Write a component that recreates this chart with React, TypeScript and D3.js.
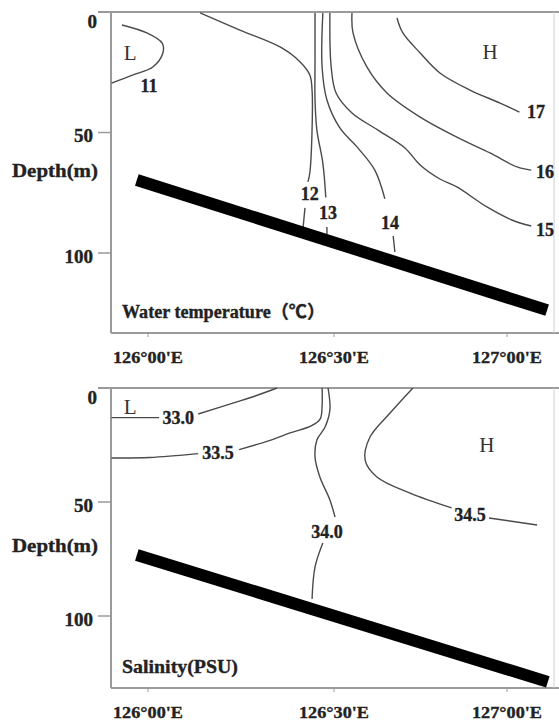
import React from 'react';
import * as d3 from 'd3';

// ---------- axes ----------
const lonTicks = [126, 126.5, 127];
const lonTickLabels = ["126°00'E", "126°30'E", "127°00'E"];
const depthTicks = [0, 50, 100];
const depthTickLabels = ['0', '50', '100'];

// ---------- water temperature contours [lon, depth(m)] ----------
const temp11 = [[125.930, 5.4], [125.997, 8.7], [126.038, 12.9], [126.040, 17.0], [126.013, 22.8], [125.960, 26.1], [125.902, 29.5]];
const temp12Upper = [[126.140, 0.4], [126.247, 7.5], [126.355, 14.5], [126.409, 20.7], [126.435, 26.1], [126.441, 32.4], [126.441, 49.0], [126.435, 66.8], [126.430, 70.5]];
const temp12Lower = [[126.422, 81.3], [126.417, 89.2]];
const temp13Upper = [[126.449, 0.4], [126.449, 19.9], [126.449, 36.5], [126.454, 49.0], [126.470, 62.7], [126.478, 77.0]];
const temp13Lower = [[126.481, 89.2], [126.481, 92.1]];
const temp14Upper = [[126.470, 0.4], [126.468, 22.8], [126.481, 36.5], [126.517, 48.1], [126.569, 56.4], [126.618, 65.6], [126.647, 77.5]];
const temp14Lower = [[126.671, 92.9], [126.676, 99.6]];
const temp15 = [[126.489, 0.4], [126.492, 22.0], [126.506, 33.6], [126.552, 41.9], [126.627, 49.0], [126.705, 56.4], [126.749, 63.5], [126.806, 69.3], [126.855, 72.6], [126.942, 80.9], [127.014, 86.3], [127.070, 88.8]];
const temp16 = [[126.552, 0.4], [126.555, 8.7], [126.595, 22.8], [126.653, 33.6], [126.749, 43.6], [126.855, 51.9], [126.951, 58.5], [127.029, 64.3], [127.070, 65.6]];
const temp17 = [[126.682, 2.5], [126.699, 8.7], [126.749, 17.0], [126.806, 25.3], [126.893, 32.4], [126.980, 37.8], [127.036, 41.5]];

const tempLabelText = ['11', '12', '13', '14', '15', '16', '17'];
const tempLabelPos = [[126.003, 30.5], [126.435, 75.3], [126.484, 83.4], [126.662, 87.3], [127.110, 90.5], [127.110, 66.4], [127.084, 41.5]];
const tempBathy = [[125.970, 69.7], [127.116, 123.7]];

// ---------- salinity contours [lon, depth(m)] ----------
const sal330Left = [[125.902, 13.0], [126.030, 13.0]];
const sal330Right = [[126.135, 11.4], [126.228, 6.6], [126.288, 3.5], [126.347, 0]];
const sal335Left = [[125.902, 30.7], [126.005, 30.5], [126.135, 28.8]];
const sal335Right = [[126.245, 27.0], [126.328, 23.0], [126.382, 19.7], [126.440, 16.5], [126.463, 13.5], [126.468, 8.0], [126.468, 0]];
const sal340Upper = [[126.484, 0], [126.489, 9.6], [126.476, 17.1], [126.454, 22.8], [126.449, 30.3], [126.462, 39.0], [126.489, 49.1], [126.503, 56.6]];
const sal340Lower = [[126.470, 68.0], [126.449, 78.5], [126.441, 92.5]];
const sal345Left = [[126.728, 0], [126.662, 11.0], [126.604, 21.5], [126.590, 31.6], [126.624, 39.0], [126.720, 46.1], [126.840, 52.6]];
const sal345Right = [[126.948, 57.0], [127.087, 60.1]];

const salLabelText = ['33.0', '33.5', '34.0', '34.5'];
const salLabelPos = [[126.081, 13.2], [126.188, 28.5], [126.481, 63.2], [126.893, 55.7]];
const salBathy = [[125.970, 73.2], [127.118, 128.9]];

// L / H markers
const tempLH = [['L', 125.952, 17.0], ['H', 126.951, 16.6]];
const salLH = [['L', 125.952, 8.3], ['H', 126.942, 25.0]];

const SERIF = "'Liberation Serif', 'Noto Sans CJK SC', 'DejaVu Serif', serif";
const W = 559;
const HGT = 724;
const LEFT = 111;
const RIGHT = 554;

const xScale = d3.scaleLinear().domain([126, 126.5, 127]).range([148, 334, 507]);

type Pt = number[];

function Panel(props: {
  top: number; bottom: number; y100: number;
  lines: Pt[][]; labelText: string[]; labelPos: Pt[];
  bathy: Pt[]; lh: any[]; title: string; titleY: number; titleLen: number;
  tickLabelY: number; depthTitleY: number;
}) {
  const { top, bottom, y100, lines, labelText, labelPos, bathy, lh, title, titleY, titleLen, tickLabelY, depthTitleY } = props;
  const y = d3.scaleLinear().domain([0, 100]).range([top, y100]);
  const line = d3.line<Pt>().x(d => xScale(d[0])).y(d => y(d[1])).curve(d3.curveCatmullRom.alpha(0.5));
  const straight = d3.line<Pt>().x(d => xScale(d[0])).y(d => y(d[1]));
  const frame = '#9a9a9a';
  const heavy = { stroke: '#222', strokeWidth: 0.35 };
  return (
    <g>
      {/* frame */}
      <line x1={98} x2={W} y1={top} y2={top} stroke={frame} strokeWidth={2} />
      <line x1={LEFT} x2={LEFT} y1={top} y2={bottom} stroke={frame} strokeWidth={2} />
      <line x1={LEFT} x2={W} y1={bottom} y2={bottom} stroke={frame} strokeWidth={2} />
      <line x1={RIGHT} x2={RIGHT} y1={top} y2={bottom} stroke="#cfcfcf" strokeWidth={1} />
      {depthTicks.map((t, i) => (
        <g key={'dt' + i}>
          <line x1={98} x2={LEFT} y1={y(t)} y2={y(t)} stroke={frame} strokeWidth={1.5} />
          <text x={t === 0 ? 97 : 93} y={y(t) + (t === 0 ? 9 : 3)} dy="0.35em" textAnchor="end"
            fontFamily={SERIF} fontWeight="bold" fontSize={19} fill="#222" {...heavy}>{depthTickLabels[i]}</text>
        </g>
      ))}
      {lonTicks.map((t, i) => (
        <g key={'lt' + i}>
          <line x1={xScale(t)} x2={xScale(t)} y1={bottom} y2={bottom + 4} stroke={frame} strokeWidth={1} />
          <text x={xScale(t)} y={tickLabelY} dy="0.35em" textAnchor="middle"
            fontFamily={SERIF} fontWeight="bold" fontSize={17} fill="#222" {...heavy}
            textLength={70} lengthAdjust="spacingAndGlyphs">{lonTickLabels[i]}</text>
        </g>
      ))}
      <text x={12} y={depthTitleY} dy="0.35em" fontFamily={SERIF} fontWeight="bold" fontSize={19} fill="#222"
        textLength={86} lengthAdjust="spacingAndGlyphs" {...heavy}>Depth(m)</text>
      {/* contours */}
      {lines.map((seg, i) => (
        <path key={'c' + i} d={line(seg) || ''} fill="none" stroke="#4a4a4a" strokeWidth={1.4} />
      ))}
      {labelText.map((s, i) => (
        <text key={'l' + i} x={xScale(labelPos[i][0])} y={y(labelPos[i][1])} dy="0.35em" textAnchor="middle"
          fontFamily={SERIF} fontWeight="bold" fontSize={18} fill="#222" {...heavy}>{s}</text>
      ))}
      {lh.map((m, i) => (
        <text key={'m' + i} x={xScale(m[1])} y={y(m[2])} dy="0.35em" textAnchor="middle"
          fontFamily={SERIF} fontSize={21} fill="#333">{m[0]}</text>
      ))}
      {/* bathymetry */}
      <path d={straight(bathy) || ''} fill="none" stroke="#000" strokeWidth={12} strokeLinecap="butt" />
      <text x={122} y={titleY} dy="0.35em" fontFamily={SERIF} fontWeight="bold" fontSize={18} fill="#222" {...heavy}
        textLength={titleLen} lengthAdjust="spacingAndGlyphs">{title}</text>
    </g>
  );
}

export default function App() {
  return (
    <svg width={W} height={HGT} style={{ position: 'absolute', left: 0, top: 0, background: '#fff' }}>
      <rect x={0} y={0} width={W} height={HGT} fill="#fff" />
      <Panel top={12} bottom={333} y100={253}
        lines={[temp11, temp12Upper, temp12Lower, temp13Upper, temp13Lower, temp14Upper, temp14Lower, temp15, temp16, temp17]}
        labelText={tempLabelText} labelPos={tempLabelPos} bathy={tempBathy} lh={tempLH}
        title="Water temperature（℃）" titleY={312} titleLen={203} tickLabelY={357} depthTitleY={170} />
      <Panel top={388} bottom={688} y100={616}
        lines={[sal330Left, sal330Right, sal335Left, sal335Right, sal340Upper, sal340Lower, sal345Left, sal345Right]}
        labelText={salLabelText} labelPos={salLabelPos} bathy={salBathy} lh={salLH}
        title="Salinity(PSU)" titleY={667} titleLen={116} tickLabelY={712} depthTitleY={545} />
    </svg>
  );
}
